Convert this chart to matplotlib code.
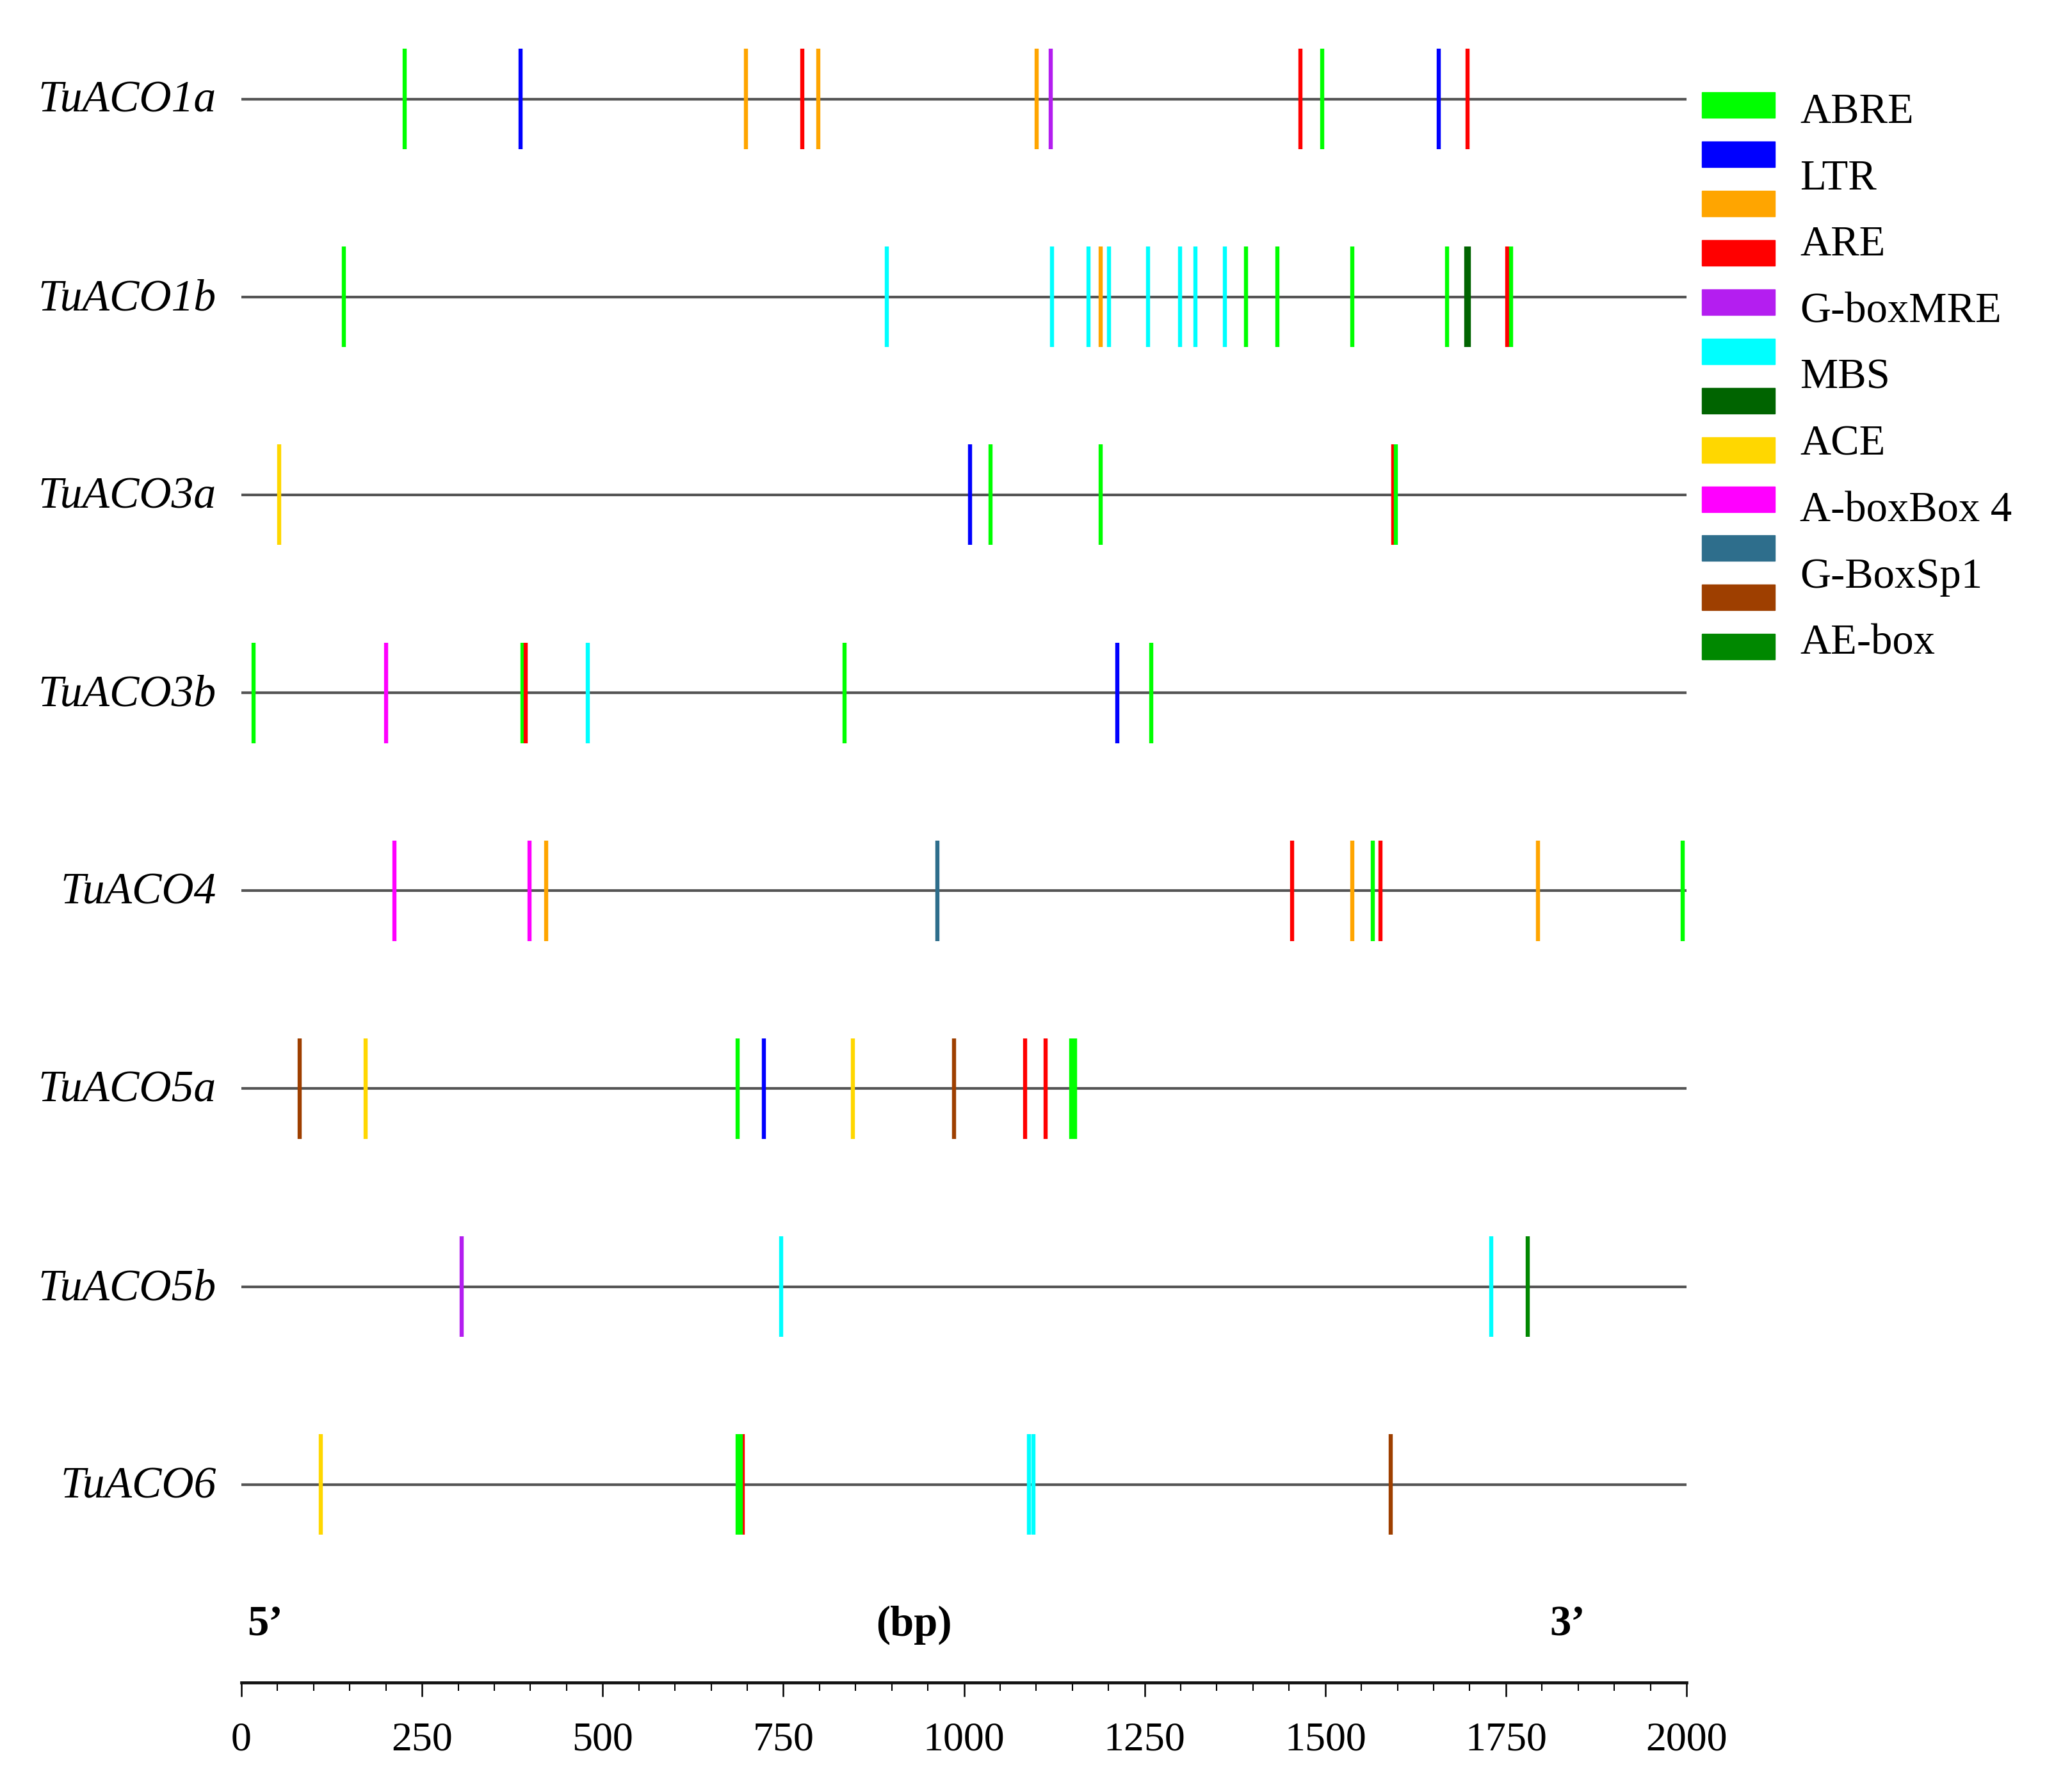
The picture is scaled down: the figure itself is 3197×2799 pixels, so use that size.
import matplotlib
matplotlib.use('Agg')
import matplotlib.pyplot as plt
from matplotlib.patches import Rectangle
from matplotlib.ticker import MultipleLocator

plt.rcParams['font.family'] = ['Liberation Serif', 'DejaVu Serif']

# element colours (keys used in the gene lists below)
palette = {
    'lime': '#00ff00', 'blue': '#0000ff', 'orange': '#ffa500', 'red': '#ff0000',
    'purple': '#b41ef0', 'cyan': '#00ffff', 'dkgreen': '#006400', 'gold': '#ffd700',
    'magenta': '#ff00ff', 'teal': '#2e6e8c', 'brown': '#9e3f00', 'green': '#008800',
}

genes = ['TuACO1a', 'TuACO1b', 'TuACO3a', 'TuACO3b', 'TuACO4', 'TuACO5a', 'TuACO5b', 'TuACO6']

aco1a_pos = [226, 386, 698, 776, 798, 1101, 1120, 1466, 1496, 1657, 1697]
aco1a_col = ['lime', 'blue', 'orange', 'red', 'orange', 'orange', 'purple', 'red', 'lime', 'blue', 'red']

aco1b_pos = [142, 893, 1122, 1172, 1189, 1201, 1255, 1299, 1320, 1361, 1390, 1434, 1537, 1669, 1695, 1699, 1752, 1757]
aco1b_col = ['lime', 'cyan', 'cyan', 'cyan', 'orange', 'cyan', 'cyan', 'cyan', 'cyan', 'cyan', 'lime', 'lime',
             'lime', 'lime', 'dkgreen', 'dkgreen', 'red', 'lime']

aco3a_pos = [52, 1008, 1037, 1189, 1594, 1598]
aco3a_col = ['gold', 'blue', 'lime', 'lime', 'red', 'lime']

aco3b_pos = [17, 200, 389, 393, 479, 835, 1212, 1259]
aco3b_col = ['lime', 'magenta', 'lime', 'red', 'cyan', 'lime', 'blue', 'lime']

aco4_pos = [212, 399, 422, 963, 1454, 1537, 1566, 1576, 1794, 1995]
aco4_col = ['magenta', 'magenta', 'orange', 'teal', 'red', 'orange', 'lime', 'red', 'orange', 'lime']

aco5a_pos = [81, 172, 687, 723, 846, 986, 1085, 1113, 1148, 1154]
aco5a_col = ['brown', 'gold', 'lime', 'blue', 'gold', 'brown', 'red', 'red', 'lime', 'lime']

aco5b_pos = [305, 747, 1730, 1780]
aco5b_col = ['purple', 'cyan', 'cyan', 'green']

aco6_pos = [110, 694, 687, 691, 1090, 1096, 1591]
aco6_col = ['gold', 'red', 'lime', 'lime', 'cyan', 'cyan', 'brown']

all_pos = [aco1a_pos, aco1b_pos, aco3a_pos, aco3b_pos, aco4_pos, aco5a_pos, aco5b_pos, aco6_pos]
all_col = [aco1a_col, aco1b_col, aco3a_col, aco3b_col, aco4_col, aco5a_col, aco5b_col, aco6_col]

# legend as drawn in the figure (patches and labels do not line up 1:1)
legend_colors = ['lime', 'blue', 'orange', 'red', 'purple', 'cyan', 'dkgreen', 'gold',
                 'magenta', 'teal', 'brown', 'green']
legend_labels = ['ABRE', 'LTR', 'ARE', 'G-boxMRE', 'MBS', 'ACE', 'A-boxBox 4', 'G-BoxSp1', 'AE-box']

W, H = 3197, 2799
fig = plt.figure(figsize=(W / 100, H / 100), dpi=100)
fig.patch.set_facecolor('white')

ax = fig.add_axes([377 / W, 1 - 2628 / H, (2634 - 377) / W, (2628 - 3) / H])
ax.set_xlim(0, 2000)
ax.set_ylim(8.0, -0.49)

half = 0.254
for i, (name, pos, col) in enumerate(zip(genes, all_pos, all_col)):
    ax.hlines(i, 0, 2000, color='#555555', lw=3.0, zorder=1)
    ax.vlines(pos, i - half, i + half, colors=[palette[c] for c in col], lw=4.6, zorder=2)
    ax.text(-35, i + 0.066, name, ha='right', va='baseline', fontsize=50, style='italic', clip_on=False)

for s in ['left', 'top', 'right']:
    ax.spines[s].set_visible(False)
ax.spines['bottom'].set_linewidth(3.4)
ax.spines['bottom'].set_color('#111111')
ax.set_yticks([])
ax.xaxis.set_major_locator(MultipleLocator(250))
ax.xaxis.set_minor_locator(MultipleLocator(50))
ax.tick_params(axis='x', which='major', length=16, width=1.8, labelsize=46, pad=28)
ax.tick_params(axis='x', which='minor', length=9, width=1.5)

ax.text(33, 7.71, '5\u2019', ha='center', va='center', fontsize=48, fontweight='bold')
ax.text(931, 7.71, '(bp)', ha='center', va='center', fontsize=48, fontweight='bold')
ax.text(1835, 7.71, '3\u2019', ha='center', va='center', fontsize=48, fontweight='bold')

# legend drawn in figure pixel coordinates
lg = fig.add_axes([0, 0, 1, 1], facecolor='none')
lg.set_xlim(0, W)
lg.set_ylim(H, 0)
lg.axis('off')
for i, c in enumerate(legend_colors):
    yc = 164.3 + i * 76.9
    lg.add_patch(Rectangle((2658, yc - 20), 114, 40, color=palette[c]))
for i, lab in enumerate(legend_labels):
    lg.text(2811, 192 + i * 103.7, lab, ha='left', va='baseline', fontsize=48)

fig.savefig('out.png', dpi=100)
